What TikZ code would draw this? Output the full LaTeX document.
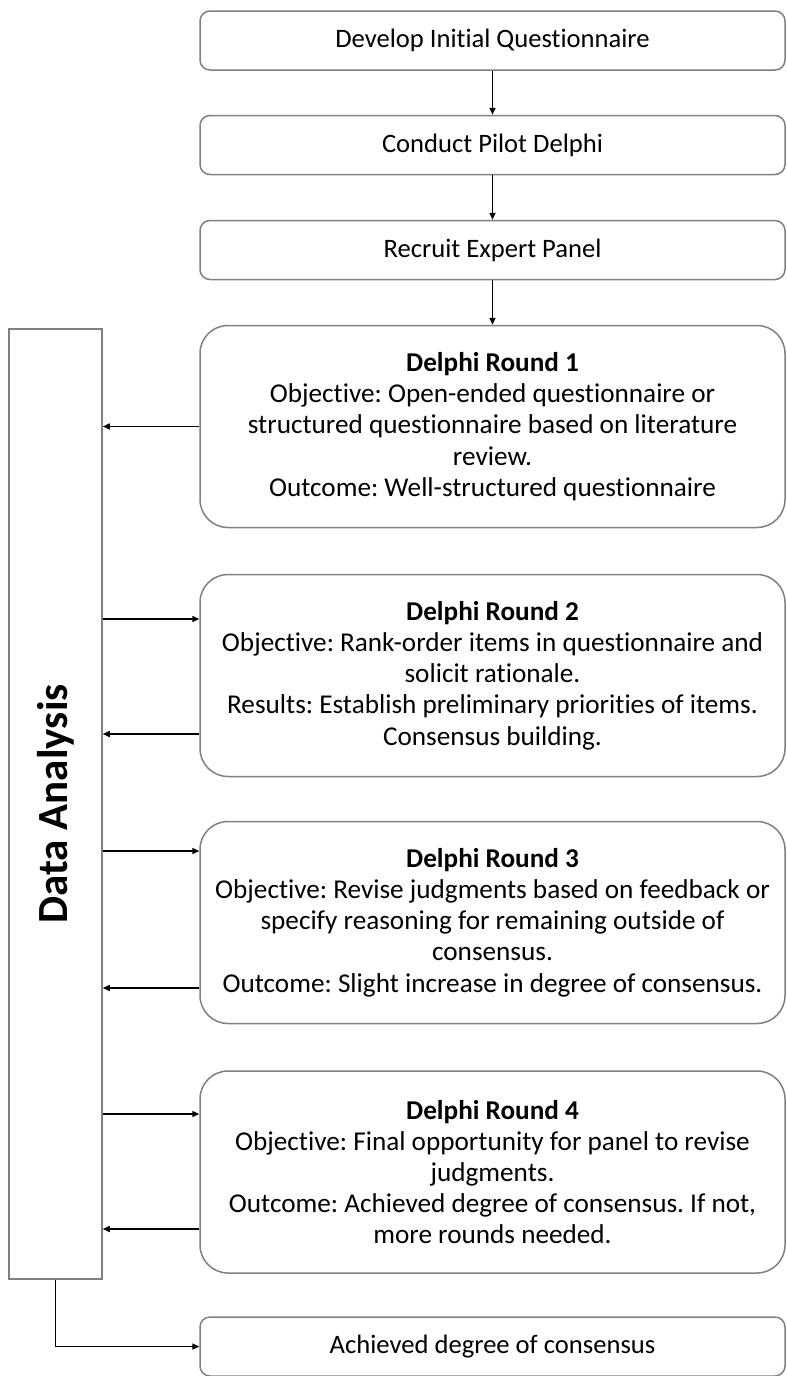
\documentclass[tikz,border=0pt]{standalone}
\usepackage{fontspec}
\setmainfont{Carlito}[Ligatures=NoCommon]
\usetikzlibrary{arrows.meta}
\definecolor{edgegray}{RGB}{128,128,128}
\frenchspacing
\begin{document}
\begin{tikzpicture}[x=0.5pt,y=-0.5pt,
  stepbox/.style={draw=edgegray, line width=0.75pt, rounded corners=5pt,
    minimum width=292.5pt, minimum height=29.5pt, inner sep=0pt,
    font=\fontsize{13.3}{15.5}\selectfont, text=black},
  roundbox/.style={draw=edgegray, line width=0.75pt, rounded corners=14pt,
    minimum width=292.5pt, minimum height=101pt, inner sep=0pt, align=center,
    font=\fontsize{13.6}{15.6}\selectfont, text=black},
  barbox/.style={draw=edgegray, line width=0.75pt, minimum width=46.5pt,
    minimum height=475pt, inner sep=0pt},
  arr/.style={draw=black, line width=0.75pt, -{Triangle[length=3.5pt,width=3pt]}}
]
\useasboundingbox (0,0) rectangle (787,1376);

% opening steps
\node[stepbox] (dev) at (492.5,40.5) {Develop Initial Questionnaire};
\node[stepbox] (pilot) at (492.5,145) {Conduct Pilot Delphi};
\node[stepbox] (panel) at (492.5,250) {Recruit Expert Panel};

% Delphi rounds
\node[roundbox] (r1) at (492.5,426.5) {\textbf{Delphi Round 1}\\Objective: Open-ended questionnaire or\\structured questionnaire based on literature\\review.\\Outcome: Well-structured questionnaire};
\node[roundbox] (r2) at (492.5,675.5) {\textbf{Delphi Round 2}\\Objective: Rank-order items in questionnaire and\\solicit rationale.\\Results: Establish preliminary priorities of items.\\Consensus building.};
\node[roundbox] (r3) at (492.5,922.5) {\textbf{Delphi Round 3}\\Objective: Revise judgments based on feedback or\\specify reasoning for remaining outside of\\consensus.\\Outcome: Slight increase in degree of consensus.};
\node[roundbox] (r4) at (492.5,1172) {\textbf{Delphi Round 4}\\Objective: Final opportunity for panel to revise\\judgments.\\Outcome: Achieved degree of consensus. If not,\\more rounds needed.};

% final step
\node[stepbox] (fin) at (492.5,1346.5) {Achieved degree of consensus};

% analysis bar
\node[barbox] (bar) at (55.5,804) {};
\node[rotate=90, font=\fontsize{21.5}{26}\selectfont\bfseries, text=black] (dalabel) at (bar.center) {Data Analysis};

% feed levels between the bar and the rounds
\coordinate (in2) at (0,619);
\coordinate (out2) at (0,734);
\coordinate (in3) at (0,851);
\coordinate (out3) at (0,988);
\coordinate (in4) at (0,1114);
\coordinate (out4) at (0,1229);

% main sequence
\draw[arr] (dev.south) -- (pilot.north);
\draw[arr] (pilot.south) -- (panel.north);
\draw[arr] (panel.south) -- (r1.north);

% exchanges with the analysis bar
\draw[arr] (r1.west) -- (r1.west -| bar.east);
\draw[arr] (bar.east |- in2) -- (r2.west |- in2);
\draw[arr] (r2.west |- out2) -- (bar.east |- out2);
\draw[arr] (bar.east |- in3) -- (r3.west |- in3);
\draw[arr] (r3.west |- out3) -- (bar.east |- out3);
\draw[arr] (bar.east |- in4) -- (r4.west |- in4);
\draw[arr] (r4.west |- out4) -- (bar.east |- out4);
\draw[arr] (bar.south) |- (fin.west);
\end{tikzpicture}
\end{document}
